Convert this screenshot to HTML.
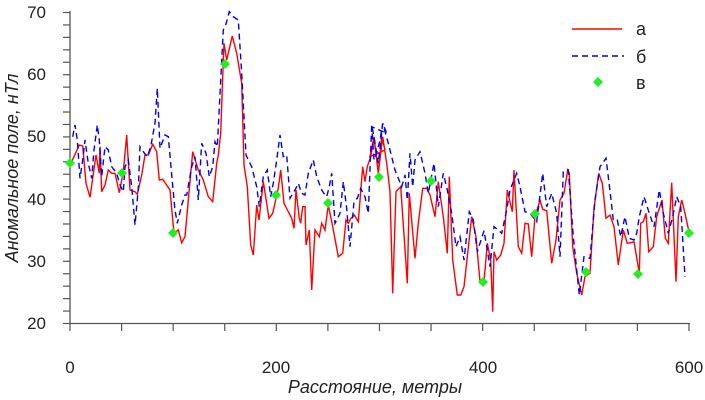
<!DOCTYPE html>
<html><head><meta charset="utf-8"><style>
body{margin:0;background:#fff}
svg{display:block;font-family:"Liberation Sans",Arial,sans-serif}
</style></head><body>
<svg id="s" width="705" height="400" viewBox="0 0 705 400">
<g stroke="#555" stroke-width="1.3" fill="none">
<line x1="70" y1="11" x2="70" y2="324"/>
<line x1="70" y1="323.5" x2="690" y2="323.5"/>
</g>
<g id="ticks" stroke="#555" stroke-width="1.2"></g>
<g font-size="17" fill="#222" text-anchor="end">
<text x="46" y="18">70</text><text x="46" y="80">60</text><text x="46" y="142">50</text>
<text x="46" y="205">40</text><text x="46" y="267">30</text><text x="46" y="329">20</text>
</g>
<g font-size="17" fill="#222" text-anchor="middle">
<text x="70" y="373">0</text><text x="276" y="373">200</text><text x="483" y="373">400</text><text x="689" y="373">600</text>
</g>
<text x="375" y="393" font-size="18" font-style="italic" text-anchor="middle" fill="#222">Расстояние, метры</text>
<text transform="translate(18,168) rotate(-90)" font-size="18" font-style="italic" text-anchor="middle" fill="#222">Аномальное поле, нТл</text>
<polyline id="r" fill="none" stroke="#f00" stroke-width="1.4"/>
<polyline id="b" fill="none" stroke="#0000ee" stroke-width="1.4" stroke-dasharray="6,4"/>
<g id="g" fill="#22ee22"></g>
<line x1="572" y1="29" x2="622" y2="29" stroke="#f00" stroke-width="1.4"/>
<line x1="572" y1="56" x2="624" y2="56" stroke="#0000ee" stroke-width="1.4" stroke-dasharray="6,4"/>
<path d="M598,77 l5,5 l-5,5 l-5,-5z" fill="#22ee22"/>
<g font-size="18" fill="#222"><text x="636" y="35">а</text><text x="636" y="63">б</text><text x="636" y="89">в</text></g>
</svg>
<script>
var r1=[[35,485],[58,435],[68,438],[78,550],[90,592],[108,465],[118,520],[120,440],[125,575],[135,555],[145,510],[155,520],[165,520],[178,578],[190,515],[200,405],[210,570],[225,575],[232,583],[245,525],[255,465],[265,465],[278,433],[290,455],[298,540],[308,538],[330,570],[342,700],[355,690],[365,728],[375,710],[385,600],[398,455],[415,510],[430,540],[445,590],[458,605],[470,490],[475,465],[482,400],[490,180],[492,130],[500,180],[517,108],[530,160],[545,250],[552,495],[562,560],[572,735],[580,765],[590,615],[597,660],[610,545],[627,655],[638,640],[655,565],[662,510],[672,610],[685,635],[695,655],[702,685],[708,570],[718,655],[722,670],[728,620],[735,620],[738,735],[748,690],[755,870],[765,690],[778,710],[785,670],[795,690],[805,615],[818,680],[835,770],[848,760],[858,660],[865,670],[873,655],[883,645],[895,665],[908,500],[915,545],[922,500],[932,470],[942,415],[955,520],[965,410],[975,450]];
var r2=[[0,470],[12,410],[25,520],[38,410],[50,490],[60,575],[68,880],[78,575],[92,560],[112,850],[118,580],[135,775],[145,670],[158,565],[170,565],[180,585],[195,650],[205,545],[220,650],[232,760],[238,530],[248,780],[262,885],[272,885],[282,860],[305,650],[318,710],[330,845],[342,845],[352,730],[362,780],[368,935],[372,755],[380,780],[392,765],[402,730],[412,570],[427,635],[432,510],[445,740],[455,760],[465,670],[475,672],[485,770],[495,650],[510,600],[518,628],[530,632],[545,790],[558,720],[570,600],[582,580],[593,510],[598,520],[608,740],[620,820],[635,885],[645,830],[660,820],[672,625],[686,520],[697,550],[708,655],[720,645],[732,680],[745,795],[760,690],[772,730],[782,728],[792,725],[808,820],[812,670],[820,665],[828,640],[836,755],[850,740],[860,650],[876,600],[886,715],[895,730],[905,548],[918,845],[925,650],[935,600],[945,640],[958,700]];
var b1=[[38,410],[45,375],[52,420],[60,535],[68,480],[75,420],[85,490],[95,535],[102,450],[112,375],[118,420],[125,530],[135,440],[145,450],[155,500],[170,520],[180,555],[190,575],[195,500],[205,480],[215,560],[225,675],[235,565],[240,440],[250,455],[262,470],[272,440],[285,370],[292,265],[300,445],[315,405],[325,410],[335,525],[345,630],[352,670],[365,615],[375,585],[380,585],[395,500],[405,470],[415,600],[425,430],[438,460],[448,530],[458,500],[465,425],[472,440],[490,90],[497,75],[508,35],[520,50],[535,60],[545,220],[558,465],[575,500],[590,560],[598,620],[610,530],[622,510],[632,590],[640,550],[650,480],[660,405],[670,470],[680,465],[690,595],[705,570],[715,550],[725,580],[735,585],[745,520],[760,480],[770,530],[785,570],[795,585],[800,590],[808,560],[815,520],[825,670],[840,640],[850,545],[860,625],[870,740],[882,605],[892,595],[902,565],[915,590],[925,640],[935,375],[942,410],[955,490],[968,370],[980,400]];
var b2=[[5,380],[12,480],[20,460],[30,420],[38,370],[55,430],[75,510],[95,560],[105,525],[112,600],[120,460],[128,560],[135,480],[150,455],[165,520],[175,580],[192,490],[205,620],[220,520],[232,570],[245,640],[258,740],[270,710],[282,780],[298,635],[310,660],[322,755],[342,692],[350,740],[360,800],[372,680],[385,690],[395,700],[410,630],[420,570],[440,520],[450,560],[465,635],[480,640],[500,665],[518,520],[530,620],[545,580],[560,640],[570,770],[580,515],[595,510],[610,710],[628,885],[642,770],[660,775],[675,600],[690,500],[708,475],[718,555],[730,660],[742,660],[752,710],[765,650],[778,715],[792,720],[800,700],[808,650],[822,590],[838,640],[852,680],[868,570],[880,640],[895,700],[908,650],[920,590],[932,620],[945,830]];
function pts(a,ox){return a.map(function(p){return (ox+p[0]/3).toFixed(1)+","+(p[1]/3).toFixed(1)}).join(" ");}
document.getElementById("r").setAttribute("points",pts(r1,60)+" "+pts(r2,370));
document.getElementById("b").setAttribute("points",pts(b1,60)+" "+pts(b2,370));
var g=[[70,163],[122,173],[173,233],[225,64],[276,195],[328,203],[379,177],[431,181],[483,282],[535,214],[586,272],[638,274],[689,233]];
var h="";g.forEach(function(p){h+='<path d="M'+p[0]+','+(p[1]-5)+' l5,5 l-5,5 l-5,-5z"/>';});
document.getElementById("g").innerHTML=h;
var t="";
for(var i=0;i<=25;i++){var y=323.5-i*12.44;t+='<line x1="63" y1="'+y+'" x2="70" y2="'+y+'"/>';}
for(var i=0;i<=12;i++){var x=70+i*51.58;t+='<line x1="'+x+'" y1="323" x2="'+x+'" y2="331"/>';}
document.getElementById("ticks").innerHTML=t;
</script>
</body></html>
